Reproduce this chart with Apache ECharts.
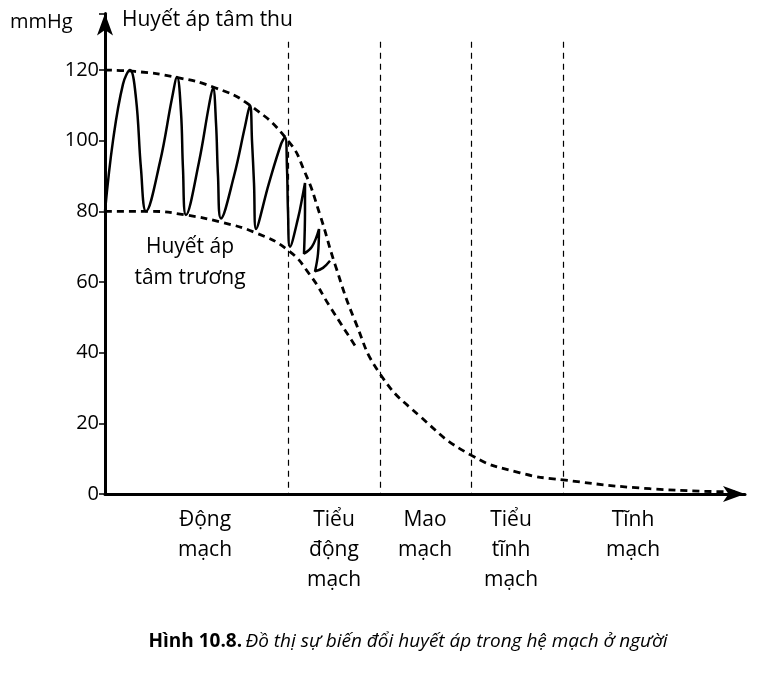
<!DOCTYPE html>
<html><head><meta charset="utf-8">
<script src="https://cdn.jsdelivr.net/npm/echarts@6/dist/echarts.min.js"></script>
<style>html,body{margin:0;background:#fff}#c{width:762px;height:675px}</style>
</head><body><div id="c"></div>
<script>
var F = '"Open Sans",sans-serif';
var yTicks = [0,20,40,60,80,100,120];
var dividers = [183,275,366,458];
var upperEnv = [[0,120],[30,119.6],[70,118],[110,115],[145,110],[183,100],[200,91],[215,79],[230,65],[250,49],[275,34],[315,22],[366,11],[415,6],[458,4],[545,1.5],[630,0.6]];
var lowerEnv = [[0,80],[45,80],[80,79],[115,77],[150,74],[183,69],[205,62],[225,53],[250,42]];
var pulse = [[0,80],[8,100],[18,116],[25,120],[31,112],[36,92],[41,80],[55,94],[67,112],[72,118],[76,108],[78,92],[81,79],[94,94],[104,110],[108,115],[111,105],[113,90],[116,78],[129,90],[140,104],[145,110],[147,100],[149,88],[151,75],[164,88],[176,99],[180,101],[182,92],[183,80],[185,70],[193,78],[198,85],[200,88],[200,80],[199,68],[207,70],[214,75],[213,68],[210,63],[218,64],[225,66]];
var groups = [[100,'Động\nmạch'],[229,'Tiểu\nđộng\nmạch'],[320,'Mao\nmạch'],[406,'Tiểu\ntĩnh\nmạch'],[528,'Tĩnh\nmạch']];
var chart = echarts.init(document.getElementById('c'));
chart.setOption({
  animation:false,
  grid:{left:105,top:13.5,width:640,bottom:181},
  xAxis:{type:'value',min:0,max:640,axisLine:{lineStyle:{color:'#000',width:3},symbol:['none','arrow'],symbolSize:[12,22]},axisTick:{show:false},axisLabel:{show:false},splitLine:{show:false}},
  yAxis:{type:'value',min:0,max:136,interval:20,axisLine:{show:true,lineStyle:{color:'#000',width:3},symbol:['none','arrow'],symbolSize:[12,22]},
    axisTick:{show:true,length:6,lineStyle:{color:'#000',width:1.5}},splitLine:{show:false},
    axisLabel:{color:'#000',fontSize:20,fontFamily:F,margin:6,formatter:function(v){return yTicks.indexOf(v)>=0?v:'';}}},
  series:[
    {type:'line',data:upperEnv,smooth:0.5,symbol:'none',lineStyle:{color:'#000',width:2.8,type:[7,5]},
      markLine:{silent:true,symbol:'none',label:{show:false},lineStyle:{color:'#000',width:1.2,type:[6,5]},
        data:dividers.map(function(d){return [{coord:[d,128]},{coord:[d,0]}];})}},
    {type:'line',data:lowerEnv,smooth:0.5,symbol:'none',lineStyle:{color:'#000',width:2.8,type:[7,5]}},
    {type:'line',data:pulse,smooth:0.4,symbol:'none',lineStyle:{color:'#000',width:2.5}}
  ],
  graphic:[
    {type:'text',left:10,top:12,style:{text:'mmHg',font:'20px '+F,fill:'#000'}},
    {type:'text',left:122,top:10,style:{text:'Huyết áp tâm thu',font:'21px '+F,fill:'#000'}},
    {type:'text',x:190,y:232,style:{text:'Huyết áp\ntâm trương',font:'21px '+F,fill:'#000',align:'center',lineHeight:31}}
  ].concat(groups.map(function(g){return {type:'text',x:105+g[0],y:505,style:{text:g[1],font:'21px '+F,fill:'#000',align:'center',lineHeight:30}};})).concat([
    {type:'text',x:408,y:632,style:{align:'center',rich:{b:{fontWeight:'bold',fontSize:19,fontFamily:F,fill:'#000'},i:{fontStyle:'italic',fontSize:19,fontFamily:F,fill:'#000'}},text:'{b|Hình 10.8.} {i|Đồ thị sự biến đổi huyết áp trong hệ mạch ở người}'}}
  ])
});
</script></body></html>
